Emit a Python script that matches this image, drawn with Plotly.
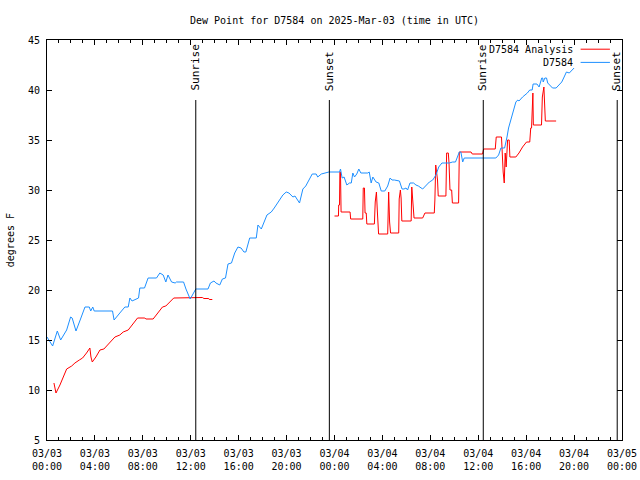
import pandas as pd
import plotly.graph_objects as go

BASE = pd.Timestamp("2025-03-03 00:00")

# Station observations (hours since 03/03 00:00 UTC, dew point °F)
obs_hours = [0.0, 0.47, 0.86, 1.14, 1.64, 1.97, 2.1, 2.42, 2.8, 3.17, 3.53, 3.65, 3.82, 3.94, 5.47, 5.6, 6.08, 6.5,
             6.78, 6.92, 7.1, 7.64, 7.75, 8.14, 8.44, 9.14, 9.42, 9.7, 9.92, 10.1, 10.4, 10.7, 10.8, 11.4, 11.6,
             11.95, 12.05, 12.42, 13.44, 13.64, 13.94, 14.1, 14.42, 14.64, 14.9, 15.11, 15.4, 15.67, 15.94, 16.2,
             16.44, 16.6, 16.92, 17.47, 17.61, 17.89, 18.36, 18.72, 18.97, 19.42, 19.69, 19.97, 20.2, 20.53, 20.7,
             21.08, 21.36, 21.6, 22.14, 22.47, 22.6, 22.9, 23.53, 24.42, 24.5, 24.64, 24.8, 25.03, 25.25, 25.4,
             25.53, 25.67, 25.86, 26.03, 26.2, 26.78, 26.9, 27.06, 27.2, 27.47, 27.7, 27.9, 28.2, 28.44, 28.64,
             28.8, 29.0, 29.42, 29.64, 29.8, 29.97, 30.1, 30.3, 30.6, 30.8, 31.0, 31.36, 31.6, 31.92, 32.2, 32.36,
             32.47, 32.7, 32.97, 33.58, 33.86, 34.1, 34.28, 34.42, 34.55, 34.7, 34.83, 37.47, 37.7, 37.89, 38.2,
             38.3, 38.4, 38.53, 38.64, 38.7, 38.8, 38.97, 39.14, 39.3, 39.4, 39.7, 40.1, 40.3, 40.5, 40.58, 40.9,
             41.08, 41.3, 41.38, 41.42, 41.56, 41.7, 41.8, 42.2, 42.5, 42.75, 42.97, 43.17, 43.36, 43.6, 43.8, 44.0]
obs_dewpt = [15.3, 14.4, 15.9, 15.0, 16.0, 17.3, 17.2, 15.9, 17.1, 18.3, 18.3, 17.9, 18.3, 17.9, 17.9, 17.0, 17.7, 18.3,
             18.3, 19.2, 18.9, 19.2, 20.2, 20.2, 21.2, 21.2, 21.7, 21.5, 20.8, 21.5, 20.8, 20.7, 20.8, 20.8, 20.1,
             19.1, 19.3, 20.1, 20.1, 20.7, 20.9, 20.7, 20.5, 21.1, 21.2, 22.6, 22.7, 23.7, 24.3, 24.2,
             23.8, 23.8, 25.2, 25.2, 26.5, 26.1, 27.5, 27.8, 28.2, 29.0, 29.5, 29.8, 29.7, 29.3, 29.4,
             28.7, 30.1, 30.4, 31.6, 31.6, 31.3, 31.6, 31.8, 31.8, 32.1, 31.2, 31.3, 30.5, 30.7, 30.7,
             31.7, 31.3, 31.6, 32.1, 31.7, 31.7, 31.8, 30.7, 31.3, 30.8, 30.7, 29.9, 29.9, 30.4, 31.2,
             31.0, 31.0, 30.9, 30.1, 30.1, 30.2, 30.0, 30.7, 30.7, 30.5, 30.4, 30.1, 30.4, 30.8, 31.0, 31.3,
             31.5, 32.3, 32.7, 32.7, 32.8, 32.8, 33.5, 33.8, 33.8, 32.8, 33.2, 33.2, 33.5, 34.2, 34.2,
             34.7, 35.3, 36.2, 36.7, 36.8, 37.5, 38.0, 38.8, 39.0, 38.9, 39.3, 39.7, 40.0, 40.0, 40.6, 40.6,
             40.3, 41.2, 41.2, 40.8, 41.2, 41.2, 40.7, 40.2, 40.2, 40.5, 40.8, 41.3, 41.8, 41.7, 42.0, 42.2]

# Analysis series (None = gap)
ana_hours = [0.58, 0.75, 1.08, 1.42, 1.64, 2.06, 2.33, 2.7, 2.97, 3.3, 3.58, 3.67, 3.78, 4.08, 4.42, 4.75, 5.1, 5.47,
             5.67, 6.08, 6.36, 6.78, 7.06, 7.56, 8.17, 8.25, 8.86, 9.14, 9.42, 9.64, 9.92, 10.2, 10.58, 12.97, 13.1,
             13.5, 13.55, 13.8, 18.0,
             24.0, 24.33, 24.35, 24.42, 24.45, 24.5, 24.55, 25.3, 25.35, 26.36, 26.4, 26.5, 26.55, 26.65, 26.7,
             27.33, 27.4, 27.5, 27.58, 27.68, 28.44, 28.47, 28.52, 28.6, 28.68, 29.36, 29.4, 29.5, 29.56, 29.62,
             30.4, 30.45, 30.55, 30.64, 31.36, 31.55, 32.33, 32.38, 32.45, 32.52, 32.6, 32.66, 33.3, 33.36, 33.5,
             33.56, 33.64, 33.78, 33.84, 34.36, 34.42, 35.4, 35.5, 36.36, 36.45, 37.42, 37.5, 37.94, 38.0, 38.08,
             38.17, 38.25, 38.33, 38.45, 38.58, 38.64, 39.14, 39.4, 39.7, 40.03, 40.3, 40.38, 40.45, 40.5, 40.56,
             40.6, 41.28, 41.35, 41.42, 41.48, 41.6, 42.5]
ana_dewpt = [10.7, 9.7, 10.5, 11.5, 12.1, 12.4, 12.7, 13.0, 13.2, 13.7, 14.2, 13.3, 12.8, 13.3, 14.0, 14.1, 14.6, 15.1,
             15.3, 15.5, 15.8, 16.0, 16.4, 17.2, 17.2, 17.1, 17.1, 17.5, 17.9, 18.3, 18.4, 18.7, 19.2, 19.25, 19.15,
             19.15, 19.05, 19.05, None,
             27.4, 27.4, 28.5, 28.5, 31.8, 31.8, 27.8, 27.8, 27.1, 27.1, 30.2, 30.2, 27.7, 27.7, 26.6,
             26.6, 28.8, 29.8, 27.8, 25.6, 25.6, 28.8, 29.8, 26.8, 25.7, 25.7, 29.1, 30.0, 29.2, 26.9,
             26.9, 30.3, 28.8, 27.2, 27.2, 27.7, 27.7, 29.0, 32.5, 31.7, 31.0, 29.4, 29.4, 33.7, 33.7,
             32.7, 30.0, 30.0, 28.7, 28.7, 33.8, 33.8, 33.6, 33.6, 34.1, 34.1, 35.3, 35.3, 33.3, 31.8,
             30.7, 33.7, 32.3, 35.0, 35.0, 33.3, 33.3, 33.7, 34.3, 34.8, 34.8, 36.2, 36.2, 39.7, 39.7,
             36.5, 36.5, 39.3, 40.3, 40.3, 36.9, 36.9]

# Sun events (hours since 03/03 00:00 UTC)
sun_hours = [12.42, 23.57, 36.42, 47.6]
sun_labels = ["Sunrise", "Sunset", "Sunrise", "Sunset"]

tick_hours = [0, 4, 8, 12, 16, 20, 24, 28, 32, 36, 40, 44, 48]
tick_text = ["03/03<br>00:00", "03/03<br>04:00", "03/03<br>08:00", "03/03<br>12:00", "03/03<br>16:00",
             "03/03<br>20:00", "03/04<br>00:00", "03/04<br>04:00", "03/04<br>08:00", "03/04<br>12:00",
             "03/04<br>16:00", "03/04<br>20:00", "03/05<br>00:00"]

series_names = ["D7584 Analysis", "D7584"]
series_colors = ["#ff0000", "#1e90ff"]


def to_time(h):
    return BASE + pd.Timedelta(hours=h)


FONT = "DejaVu Sans Mono"

fig = go.Figure()
fig.add_trace(go.Scatter(x=[to_time(h) for h in ana_hours], y=ana_dewpt, mode="lines",
                         name=series_names[0], line=dict(color=series_colors[0], width=1),
                         connectgaps=False, showlegend=False))
fig.add_trace(go.Scatter(x=[to_time(h) for h in obs_hours], y=obs_dewpt, mode="lines",
                         name=series_names[1], line=dict(color=series_colors[1], width=1),
                         showlegend=False))

for h, lab in zip(sun_hours, sun_labels):
    fig.add_shape(type="line", xref="x", yref="paper", x0=to_time(h), x1=to_time(h), y0=0, y1=0.85,
                  line=dict(color="black", width=1))
    fig.add_annotation(x=to_time(h), xref="x", y=0.868, yref="paper", text=lab, textangle=-90,
                       showarrow=False, xanchor="center", yanchor="bottom",
                       font=dict(family=FONT, size=11, color="black"))

# legend (gnuplot style: text then line sample)
leg_y = [0.977, 0.944]
for name, col, yy in zip(series_names, series_colors, leg_y):
    fig.add_annotation(x=0.918, xref="paper", y=yy, yref="paper", text=name, showarrow=False,
                       xanchor="right", yanchor="middle", font=dict(family=FONT, size=10, color="black"))
    fig.add_shape(type="line", xref="paper", yref="paper", x0=0.928, x1=0.979, y0=yy, y1=yy,
                  line=dict(color=col, width=1))

fig.add_annotation(x=-0.064, xref="paper", y=0.5, yref="paper", text="degrees F", textangle=-90,
                   showarrow=False, xanchor="center", yanchor="middle",
                   font=dict(family=FONT, size=10, color="black"))

fig.update_layout(
    width=640, height=480,
    margin=dict(l=47, r=18, t=40, b=40, autoexpand=False),
    paper_bgcolor="white", plot_bgcolor="white",
    font=dict(family=FONT, size=10, color="black"),
    title=dict(text="Dew Point for D7584 on 2025-Mar-03 (time in UTC)", x=(47 + 622) / 2 / 640,
               xanchor="center", y=1 - 20 / 480, yanchor="middle", yref="container",
               font=dict(family=FONT, size=10, color="black")),
)
fig.update_xaxes(type="date", range=[to_time(0), to_time(48)], automargin=False,
                 tickvals=[to_time(h) for h in tick_hours], ticktext=tick_text,
                 ticks="inside", ticklen=5, tickcolor="black", tickwidth=1, ticklabelstandoff=4,
                 minor=dict(dtick=3600000, ticks="inside", ticklen=3, tickcolor="black", showgrid=False),
                 showline=True, linecolor="black", linewidth=1, mirror="ticks",
                 showgrid=False, zeroline=False, tickfont=dict(family=FONT, size=10, color="black"))
fig.update_yaxes(range=[5, 45], dtick=5, tick0=5, automargin=False,
                 ticks="inside", ticklen=5, tickcolor="black", tickwidth=1, ticklabelstandoff=4,
                 showline=True, linecolor="black", linewidth=1, mirror="ticks",
                 showgrid=False, zeroline=False, tickfont=dict(family=FONT, size=10, color="black"))

fig.write_html("out.html", config={"displayModeBar": False},
               post_script="document.body.style.margin='0';document.body.style.overflow='hidden';")
